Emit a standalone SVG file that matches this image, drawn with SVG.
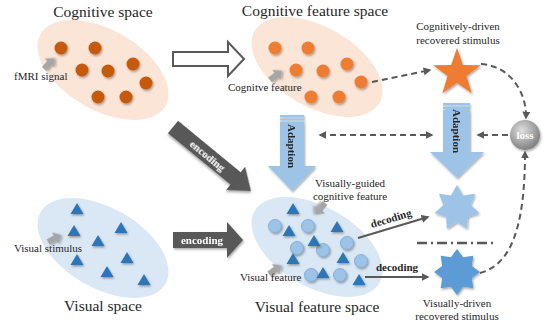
<svg xmlns="http://www.w3.org/2000/svg" width="549" height="329" viewBox="0 0 549 329" font-family="'Liberation Serif', 'Times New Roman', serif">
<style>
text{font-family:'Liberation Serif','Times New Roman',serif;fill:#262626}
.title{font-size:15.5px}
.lbl{font-size:11px}
.bold{font-weight:bold}
.wt{fill:#ffffff;font-weight:bold;font-size:11px}
.dash{fill:none;stroke:#595959;stroke-width:2;stroke-dasharray:6 4}
.cdot{fill:#c55a11}
.fdot{fill:#ed7d31}
.vtri{fill:#2e75b6}
.vcir{fill:#9dc3e6;stroke:#7aa7d6;stroke-width:0.8}
.garrow{fill:#a6a6a6}
.blk{fill:#595959}
.adp{fill:#9dc3e6}
</style>
<defs>
<filter id="sh" x="-30%" y="-30%" width="160%" height="160%">
<feDropShadow dx="1" dy="1.5" stdDeviation="1" flood-color="#000" flood-opacity="0.35"/>
</filter>
<radialGradient id="sphere" cx="0.4" cy="0.35" r="0.7">
<stop offset="0" stop-color="#e0e0e0"/>
<stop offset="1" stop-color="#7a7a7a"/>
</radialGradient>
<marker id="ah" viewBox="0 0 10 10" refX="8" refY="5" markerWidth="4" markerHeight="4" orient="auto-start-reverse">
<path d="M0,0 L10,5 L0,10 Z" fill="#595959"/>
</marker>
<path id="ga" d="M0,-3 L8,-3 L8,-6.5 L15,0 L8,6.5 L8,3 L0,3 Z"/>
<circle id="cd" r="6.5"/>
<path id="tri" d="M0,-6 L6.5,5 L-6.5,5 Z"/>
</defs>

<g id="cognitive-space">
<ellipse cx="103" cy="70" rx="72" ry="40" transform="rotate(30 103 70)" fill="#fbe5d6"/>
<g class="cdot" filter="url(#sh)">
<use href="#cd" x="61" y="48"/><use href="#cd" x="95" y="48"/><use href="#cd" x="82" y="70"/><use href="#cd" x="108" y="71"/>
<use href="#cd" x="133" y="64"/><use href="#cd" x="146" y="83"/><use href="#cd" x="98" y="97"/><use href="#cd" x="126" y="97"/>
</g>
<use href="#ga" class="garrow" transform="translate(44 69) rotate(-47)" filter="url(#sh)"/>
<text class="title" x="103" y="17" text-anchor="middle">Cognitive space</text>
<text class="lbl" x="14" y="80">fMRI signal</text>
</g>

<g id="cognitive-feature-space">
<ellipse cx="317" cy="67" rx="72" ry="40" transform="rotate(30 317 67)" fill="#fbe5d6"/>
<g class="fdot" filter="url(#sh)">
<use href="#cd" x="275" y="48"/><use href="#cd" x="308" y="48"/><use href="#cd" x="296" y="70"/><use href="#cd" x="323" y="71"/>
<use href="#cd" x="347" y="64"/><use href="#cd" x="361" y="82"/><use href="#cd" x="311" y="97"/><use href="#cd" x="339" y="97"/>
</g>
<use href="#ga" class="garrow" transform="translate(270 80) rotate(-38)" filter="url(#sh)"/>
<text class="title" x="315" y="16" text-anchor="middle">Cognitive feature space</text>
<text class="lbl" x="228" y="91">Cognitve feature</text>
</g>

<g id="visual-space">
<ellipse cx="103" cy="248" rx="72" ry="40" transform="rotate(30 103 248)" fill="#dae8f5"/>
<g class="vtri" filter="url(#sh)">
<use href="#tri" x="77" y="209"/><use href="#tri" x="74" y="231"/><use href="#tri" x="121" y="228"/><use href="#tri" x="98" y="241"/>
<use href="#tri" x="77" y="260"/><use href="#tri" x="127" y="258"/><use href="#tri" x="107" y="272"/><use href="#tri" x="144" y="280"/>
</g>
<use href="#ga" class="garrow" transform="translate(48 242) rotate(-28)" filter="url(#sh)"/>
<text class="lbl" x="14" y="252">Visual stimulus</text>
<text class="title" x="103" y="311" text-anchor="middle">Visual space</text>
</g>

<g id="visual-feature-space">
<ellipse cx="317" cy="247" rx="72" ry="40" transform="rotate(30 317 247)" fill="#dae8f5"/>
<g class="vcir" filter="url(#sh)">
<use href="#cd" x="275" y="226"/><use href="#cd" x="308" y="226"/><use href="#cd" x="297" y="248"/><use href="#cd" x="323" y="250"/>
<use href="#cd" x="347" y="243"/><use href="#cd" x="361" y="261"/><use href="#cd" x="311" y="275"/><use href="#cd" x="340" y="275"/>
</g>
<g class="vtri" filter="url(#sh)">
<use href="#tri" x="293" y="209"/><use href="#tri" x="289" y="231"/><use href="#tri" x="337" y="227"/><use href="#tri" x="314" y="241"/>
<use href="#tri" x="293" y="259"/><use href="#tri" x="343" y="258"/><use href="#tri" x="323" y="273"/><use href="#tri" x="359" y="280"/>
</g>
<use href="#ga" class="garrow" transform="translate(325 203) rotate(128)" filter="url(#sh)"/>
<use href="#ga" class="garrow" transform="translate(269 274) rotate(-35)" filter="url(#sh)"/>
<text class="lbl" x="350" y="187" text-anchor="middle">Visually-guided</text>
<text class="lbl" x="350" y="200" text-anchor="middle">cognitive feature</text>
<text class="lbl" x="240" y="281">Visual feature</text>
<text class="title" x="317" y="312" text-anchor="middle">Visual feature space</text>
</g>

<g id="cognitive-star">
<path d="M457,48 L462.9,64.9 L480.8,65.3 L466.5,76.1 L471.7,93.2 L457,83 L442.3,93.2 L447.5,76.1 L433.2,65.3 L451.1,64.9 Z" fill="#ed7d31" filter="url(#sh)"/>
<text class="lbl" x="458" y="30" text-anchor="middle">Cognitively-driven</text>
<text class="lbl" x="458" y="44" text-anchor="middle">recovered stimulus</text>
</g>

<g id="guided-star">
<path d="M457,185 L463.1,195.4 L475,193.7 L470.6,204.9 L479.4,213.1 L467.9,216.7 L467,228.7 L457,222 L447,228.7 L446.1,216.7 L434.6,213.1 L443.4,204.9 L439,193.7 L450.9,195.4 Z" fill="#9dc3e6" filter="url(#sh)"/>
</g>

<g id="visual-star">
<path d="M457,249 L463.1,257.2 L473.3,255.7 L471.8,265.9 L480,272 L471.8,278.1 L473.3,288.3 L463.1,286.8 L457,295 L450.9,286.8 L440.7,288.3 L442.2,278.1 L434,272 L442.2,265.9 L440.7,255.7 L450.9,257.2 Z" fill="#5b9bd5" filter="url(#sh)"/>
<text class="lbl" x="457" y="307" text-anchor="middle">Visually-driven</text>
<text class="lbl" x="457" y="320" text-anchor="middle">recovered stimulus</text>
</g>

<g id="loss">
<circle cx="525" cy="135" r="15" fill="url(#sphere)" filter="url(#sh)"/>
<text class="wt" x="525" y="139" text-anchor="middle">loss</text>
</g>

<g id="separator">
<line x1="417" y1="243" x2="497" y2="243" stroke="#595959" stroke-width="2.5" stroke-dasharray="10 4 2 4"/>
</g>

<g id="connectors">
<path d="M173,52 L228,52 L228,42 L244,59 L228,76 L228,66 L173,66 Z" fill="#ffffff" stroke="#595959" stroke-width="2"/>
<g transform="translate(173 127) rotate(39.4)" filter="url(#sh)">
<path class="blk" d="M0,-8 L81,-8 L81,-15 L101,0 L81,15 L81,8 L0,8 Z"/>
<text class="wt" x="45" y="4" text-anchor="middle">encoding</text>
</g>
<g filter="url(#sh)">
<path class="blk" d="M173,232 L227,232 L227,222 L243,240 L227,258 L227,248 L173,248 Z"/>
<text class="wt" x="202" y="244" text-anchor="middle">encoding</text>
</g>
<g id="adaption-left" filter="url(#sh)">
<rect class="adp" x="280" y="115" width="24" height="2.5"/>
<rect class="adp" x="280" y="118.5" width="24" height="2"/>
<path class="adp" d="M280,121.5 L304,121.5 L304,166 L316,166 L292,191 L268,166 L280,166 Z"/>
<text class="lbl bold" transform="translate(288 146) rotate(90)" text-anchor="middle">Adaption</text>
</g>
<g id="adaption-right" filter="url(#sh)">
<rect class="adp" x="443" y="103" width="27" height="2.5"/>
<rect class="adp" x="443" y="106.5" width="27" height="2.5"/>
<path class="adp" d="M443,110 L470,110 L470,152 L484,152 L457,178 L430,152 L443,152 Z"/>
<text class="lbl bold" transform="translate(453 131) rotate(90)" text-anchor="middle">Adaption</text>
</g>
<line class="dash" x1="372" y1="82" x2="430" y2="70" marker-end="url(#ah)"/>
<path class="dash" d="M481,64 C512,66 527,95 526,118" marker-end="url(#ah)"/>
<path class="dash" d="M480,273 C510,265 525,230 525,152" marker-end="url(#ah)"/>
<line class="dash" x1="508" y1="135" x2="478" y2="135" marker-end="url(#ah)"/>
<line class="dash" x1="320" y1="135" x2="432" y2="135" marker-start="url(#ah)" marker-end="url(#ah)"/>
<line x1="358" y1="238" x2="428" y2="217" stroke="#595959" stroke-width="2" marker-end="url(#ah)"/>
<text class="lbl bold" transform="translate(392 222) rotate(-16.7)" text-anchor="middle">decoding</text>
<line x1="365" y1="277" x2="428" y2="277" stroke="#595959" stroke-width="2" marker-end="url(#ah)"/>
<text class="lbl bold" x="397" y="271" text-anchor="middle">decoding</text>
</g>
</svg>
